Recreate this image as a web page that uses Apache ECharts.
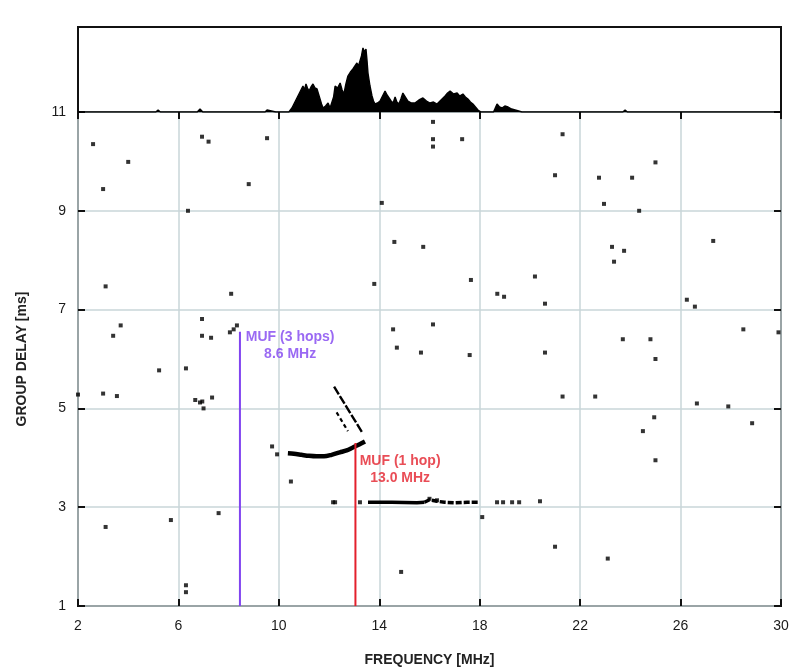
<!DOCTYPE html>
<html>
<head>
<meta charset="utf-8">
<style>
  html, body { margin: 0; padding: 0; background: #ffffff; }
  #chart { width: 794px; height: 672px; }
</style>
<script src="https://cdn.jsdelivr.net/npm/echarts@6/dist/echarts.min.js"></script>
</head>
<body>
<div id="chart"></div>
<script>
// ---- Tick labels ----
const freqTicks = [2, 6, 10, 14, 18, 22, 26, 30];
const delayTicks = [1, 3, 5, 7, 9, 11];

// ---- Top panel: occurrence histogram over frequency (relative counts) ----
const histFreq = [2, 5.1, 5.19, 5.28, 6.75, 6.86, 6.97, 9.45, 9.53, 9.6, 9.88, 9.93, 10.0, 10.40, 10.52, 10.62, 10.72, 10.84, 10.96, 11.02, 11.08, 11.14, 11.20, 11.28, 11.36, 11.44, 11.52, 11.58, 11.64, 11.70, 11.76, 11.86, 11.96, 12.04, 12.10, 12.18, 12.24, 12.34, 12.44, 12.52, 12.59, 12.67, 12.75, 12.85, 12.95, 13.03, 13.11, 13.17, 13.23, 13.29, 13.35, 13.41, 13.47, 13.51, 13.55, 13.63, 13.71, 13.77, 13.83, 13.93, 14.03, 14.13, 14.23, 14.31, 14.39, 14.47, 14.55, 14.63, 14.70, 14.78, 14.86, 14.94, 15.04, 15.14, 15.28, 15.42, 15.58, 15.74, 15.88, 16.02, 16.16, 16.30, 16.46, 16.62, 16.72, 16.82, 16.96, 17.10, 17.20, 17.33, 17.43, 17.53, 17.63, 17.73, 17.83, 17.93, 18.05, 18.55, 18.69, 18.79, 18.89, 19.0, 19.13, 19.27, 19.41, 19.55, 19.68, 23.7, 23.79, 23.88, 30];
const histCount = [0, 0, 2, 0, 0, 3, 0, 0, 2, 0, 0, 2, 0, 0, 4, 9, 14, 20, 26, 22, 28, 24, 21, 25, 28, 24, 23, 18, 13, 8, 4, 6, 9, 4, 3, 15, 26, 24, 29, 22, 18, 28, 36, 40, 43, 46, 49, 46, 44, 56, 64, 60, 63, 52, 39, 26, 16, 11, 8, 9, 11, 16, 21, 17, 14, 11, 9, 15, 10, 8, 13, 19, 15, 11, 9, 9, 12, 14, 11, 9, 10, 8, 12, 16, 19, 21, 18, 19, 16, 18, 15, 13, 10, 8, 5, 2, 0, 0, 8, 5, 4, 6, 5, 3, 2, 1, 0, 0, 2, 0, 0];

// ---- Main panel: isolated echo points (frequency MHz, group delay ms) ----
const dotFreq = [2.6, 4.0, 3.0, 6.38, 6.94, 7.2, 9.53, 8.8, 14.1, 14.6, 3.1, 8.1, 13.8, 16.14, 16.14, 16.14, 17.3, 21.3, 21.0, 22.75, 24.07, 25.0, 22.95, 24.35, 15.75, 17.65, 20.2, 18.7, 18.97, 20.6, 23.27, 23.75, 23.35, 27.3, 26.25, 26.57, 3.7, 3.4, 6.94, 6.94, 7.3, 8.05, 8.33, 8.2, 5.23, 6.3, 3.0, 3.55, 2.0, 6.67, 6.86, 6.95, 7.34, 7.0, 3.1, 5.7, 7.6, 6.3, 6.3, 9.73, 9.93, 10.48, 14.55, 14.7, 15.66, 16.14, 17.6, 20.6, 21.3, 22.6, 23.7, 24.8, 25.0, 26.65, 27.9, 28.5, 29.9, 28.85, 24.95, 24.5, 25.0, 18.1, 21.0, 23.1, 14.87, 12.16, 13.23, 12.24, 18.69, 18.93, 19.29, 19.57, 20.4, 16.0, 16.3];
const dotDelay = [10.35, 9.99, 9.44, 9.0, 10.5, 10.4, 10.47, 9.54, 9.16, 8.37, 7.47, 7.32, 7.52, 10.8, 10.45, 10.3, 10.45, 10.55, 9.72, 9.67, 9.67, 9.98, 9.14, 9.0, 8.27, 7.6, 7.67, 7.32, 7.26, 7.12, 8.27, 8.19, 7.97, 8.39, 7.2, 7.06, 6.68, 6.47, 6.81, 6.47, 6.43, 6.54, 6.68, 6.6, 5.77, 5.81, 5.3, 5.25, 5.28, 5.17, 5.12, 5.14, 5.22, 5.0, 2.6, 2.74, 2.88, 1.42, 1.28, 4.23, 4.07, 3.52, 6.6, 6.23, 6.13, 6.7, 6.08, 6.13, 5.24, 5.24, 6.4, 6.4, 6.0, 5.1, 5.04, 6.6, 6.54, 4.7, 4.82, 4.54, 3.95, 2.8, 2.2, 1.96, 1.69, 3.1, 3.1, 3.1, 3.1, 3.1, 3.1, 3.1, 3.12, 3.17, 3.14];

// ---- Traces ----
const trace1HopFreq = [10.36, 10.6, 10.9, 11.2, 11.5, 11.8, 12.1, 12.43, 12.7, 12.95, 13.2, 13.43];
const trace1HopDelay = [4.09, 4.08, 4.06, 4.04, 4.03, 4.03, 4.06, 4.11, 4.15, 4.21, 4.27, 4.33];
const trace3msSolidFreq = [13.55, 14.5, 15.5, 15.8];
const trace3msSolidDelay = [3.1, 3.1, 3.09, 3.1];
const trace3msDashFreq = [15.8, 16.0, 16.3, 16.6, 17.0, 17.5, 17.93];
const trace3msDashDelay = [3.1, 3.15, 3.12, 3.1, 3.09, 3.1, 3.1];
const diagLongFreq = [12.2, 13.31];
const diagLongDelay = [5.44, 4.52];
const diagShortFreq = [12.3, 12.75];
const diagShortDelay = [4.92, 4.54];

// ---- MUF markers ----
const mufNames = ['MUF (3 hops)\n8.6 MHz', 'MUF (1 hop)\n13.0 MHz'];
const mufFreq = [8.45, 13.05];
const mufTopDelay = [6.55, 4.3];
const mufLabelFreq = [10.45, 14.83];
const mufLabelDelay = [6.27, 3.77];
const mufColors = ['#8144f0', '#e3202c'];

const zip = (a, b) => a.map((v, i) => [v, b[i]]);

const FONT = "'Liberation Sans', Arial, sans-serif";

const chart = echarts.init(document.getElementById('chart'), null, { renderer: 'canvas' });

const series = [
  {
    type: 'line', xAxisIndex: 2, yAxisIndex: 2,
    data: zip(histFreq, histCount),
    symbol: 'none', silent: true,
    lineStyle: { color: '#000', width: 1.4 },
    areaStyle: { color: '#000', opacity: 1 },
    z: 3
  },
  {
    type: 'scatter', xAxisIndex: 0, yAxisIndex: 0,
    data: zip(dotFreq, dotDelay),
    symbol: 'rect', symbolSize: 4,
    itemStyle: { color: '#000' }, silent: true, z: 4
  },
  {
    type: 'line', xAxisIndex: 0, yAxisIndex: 0,
    data: zip(trace1HopFreq, trace1HopDelay),
    symbol: 'none', smooth: 0.3, silent: true,
    lineStyle: { color: '#000', width: 4.5 }, z: 5
  },
  {
    type: 'line', xAxisIndex: 0, yAxisIndex: 0,
    data: zip(trace3msSolidFreq, trace3msSolidDelay),
    symbol: 'none', silent: true,
    lineStyle: { color: '#000', width: 3.5 }, z: 5
  },
  {
    type: 'line', xAxisIndex: 0, yAxisIndex: 0,
    data: zip(trace3msDashFreq, trace3msDashDelay),
    symbol: 'none', silent: true,
    lineStyle: { color: '#000', width: 3.5, type: [6, 2] }, z: 5
  },
  {
    type: 'line', xAxisIndex: 0, yAxisIndex: 0,
    data: zip(diagLongFreq, diagLongDelay),
    symbol: 'none', silent: true,
    lineStyle: { color: '#000', width: 2.4, type: [9, 2] }, z: 5
  },
  {
    type: 'line', xAxisIndex: 0, yAxisIndex: 0,
    data: zip(diagShortFreq, diagShortDelay),
    symbol: 'none', silent: true,
    lineStyle: { color: '#000', width: 2.2, type: [4, 3] }, z: 5
  }
];

mufFreq.forEach((f, i) => {
  series.push({
    type: 'line', xAxisIndex: 0, yAxisIndex: 0,
    data: [[f, 1], [f, mufTopDelay[i]]],
    symbol: 'none', silent: true,
    lineStyle: { color: mufColors[i], width: 2 }, z: 6
  });
  series.push({
    type: 'scatter', xAxisIndex: 0, yAxisIndex: 0,
    data: [[mufLabelFreq[i], mufLabelDelay[i]]],
    symbolSize: 0, silent: true, z: 7,
    label: {
      show: true, position: 'inside', formatter: mufNames[i],
      color: mufColors[i], fontFamily: FONT, fontWeight: 'bold',
      fontSize: 14, lineHeight: 17, align: 'center', verticalAlign: 'middle'
    }
  });
});

const gridLine = { show: true, lineStyle: { color: '#c9d6d9', width: 1.5 } };

chart.setOption({
  animation: false,
  backgroundColor: '#ffffff',
  grid: [
    { left: 78, right: 13, top: 27, height: 85, show: true, borderColor: '#111', borderWidth: 2, backgroundColor: 'transparent' },
    { left: 78, right: 13, top: 112, height: 495, show: true, borderColor: '#111', borderWidth: 2, backgroundColor: 'transparent' }
  ],
  xAxis: [
    {
      type: 'value', gridIndex: 1, position: 'bottom', min: 2, max: 30,
      name: 'FREQUENCY [MHz]', nameLocation: 'middle', nameGap: 47,
      nameTextStyle: { fontFamily: FONT, fontWeight: 'bold', fontSize: 14, color: '#222' },
      axisLine: { show: false },
      axisTick: { show: true, inside: true, length: 7, customValues: freqTicks, lineStyle: { color: '#111', width: 2 } },
      axisLabel: { show: true, customValues: freqTicks, margin: 13, fontFamily: FONT, fontSize: 14, color: '#1a1a1a' },
      splitLine: gridLine
    },
    {
      type: 'value', gridIndex: 1, position: 'top', min: 2, max: 30,
      axisLine: { show: false },
      axisTick: { show: true, inside: true, length: 7, customValues: freqTicks, lineStyle: { color: '#111', width: 2 } },
      axisLabel: { show: false },
      splitLine: { show: false }
    },
    {
      type: 'value', gridIndex: 0, min: 2, max: 30,
      axisLine: { show: false }, axisTick: { show: false }, axisLabel: { show: false }, splitLine: { show: false }
    }
  ],
  yAxis: [
    {
      type: 'value', gridIndex: 1, position: 'left', min: 1, max: 11,
      name: 'GROUP DELAY [ms]', nameLocation: 'middle', nameGap: 49, nameRotate: 90,
      nameTextStyle: { fontFamily: FONT, fontWeight: 'bold', fontSize: 14, color: '#222' },
      axisLine: { show: false },
      axisTick: { show: true, inside: true, length: 7, customValues: delayTicks, lineStyle: { color: '#111', width: 2 } },
      axisLabel: { show: true, customValues: delayTicks, margin: 12, fontFamily: FONT, fontSize: 14, color: '#1a1a1a' },
      splitLine: gridLine
    },
    {
      type: 'value', gridIndex: 1, position: 'right', min: 1, max: 11,
      axisLine: { show: false },
      axisTick: { show: true, inside: true, length: 7, customValues: delayTicks, lineStyle: { color: '#111', width: 2 } },
      axisLabel: { show: false },
      splitLine: { show: false }
    },
    {
      type: 'value', gridIndex: 0, min: 0, max: 85,
      axisLine: { show: false }, axisTick: { show: false }, axisLabel: { show: false }, splitLine: { show: false }
    }
  ],
  series: series
});
</script>
</body>
</html>
